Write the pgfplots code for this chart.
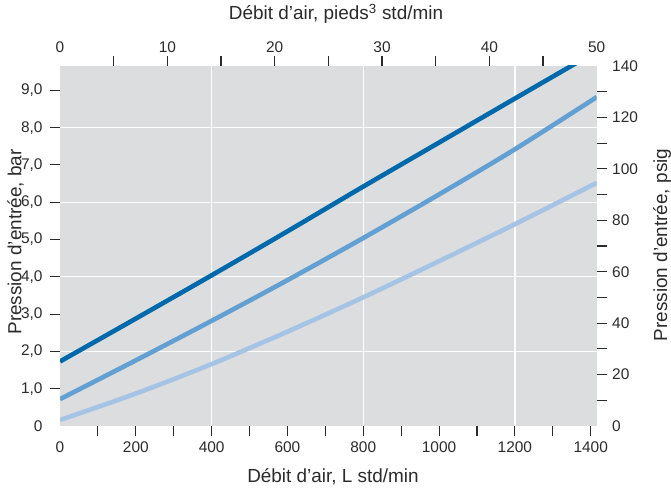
\documentclass[border=0pt]{standalone}
\usepackage{fontspec}
\setmainfont{Liberation Sans}
\usepackage{pgfplots}
\pgfplotsset{compat=1.18}
\definecolor{bggray}{HTML}{DCDDDF}
\definecolor{cdark}{HTML}{0069AB}
\definecolor{cmed}{HTML}{629FD2}
\definecolor{clight}{HTML}{A5C4E5}
\definecolor{txt}{HTML}{2B2B2B}
\begin{document}
\begin{tikzpicture}
\useasboundingbox (0,0) rectangle (671bp,494bp);
\pgfplotsset{
  common/.style={
    at={(60bp,68bp)}, anchor=south west,
    width=536.7bp, height=360bp, scale only axis,
    axis line style={draw=none},
    tick align=outside,
    major tick length=0pt,
    minor tick length=10bp,
    tick style={txt, line width=1.1bp},
    tick label style={font=\fontsize{15.5}{17}\selectfont, text=txt},
    /pgf/number format/assume math mode=true,
    /pgf/number format/1000 sep={},
  }
}
\pgfplotstableread{
x y
0 1.73
200 2.88
400 4.04
600 5.22
800 6.42
1000 7.60
1200 8.78
1416 10.05
}\darkdata
\pgfplotstableread{
x y
0 0.72
200 1.76
400 2.82
600 3.91
800 5.04
1000 6.21
1200 7.42
1416 8.82
}\meddata
\pgfplotstableread{
x y
0 0.16
200 0.87
400 1.66
600 2.53
800 3.45
1000 4.42
1200 5.41
1416 6.52
}\lightdata
\begin{axis}[common,
  xmin=0, xmax=1415.8, ymin=0, ymax=9.6526,
  axis background/.style={fill=bggray},
  xtick pos=bottom, ytick pos=left,
  xtick={0,200,...,1400},
  minor xtick={100,200,...,1400},
  ytick={0,1,...,9},
  yticklabels={0,{1,0},{2,0},{3,0},{4,0},{5,0},{6,0},{7,0},{8,0},{9,0}},
  minor ytick={1,2,...,9},
  extra x ticks={400,800,1200}, extra x tick labels={},
  extra y ticks={2,4,6,8}, extra y tick labels={},
  extra tick style={grid=major, major tick length=0pt},
  major grid style={white, line width=1.3bp},
  xticklabel style={yshift=-12bp},
  yticklabel style={xshift=-14bp},
]
\addplot[clight, line width=4.6bp, smooth] table[x=x,y=y] {\lightdata};
\addplot[cmed, line width=4.6bp, smooth] table[x=x,y=y] {\meddata};
\addplot[cdark, line width=4.6bp, smooth] table[x=x,y=y] {\darkdata};
\end{axis}
\begin{axis}[common,
  xmin=0, xmax=1415.8, ymin=0, ymax=140,
  axis x line=none,
  ytick pos=right,
  ytick={0,20,...,140},
  minor ytick={10,20,...,130},
  yticklabel style={xshift=12bp},
]
\end{axis}
\begin{axis}[common,
  xmin=0, xmax=50, ymin=0, ymax=1,
  axis y line=none,
  xtick pos=top,
  xtick={0,10,...,50},
  minor xtick={5,10,...,45},
  xticklabel style={yshift=10bp},
]
\end{axis}
\node[text=txt, font=\fontsize{19}{21}\selectfont] at (333bp,17bp) {Débit d’air, L std/min};
\node[text=txt, font=\fontsize{19}{21}\selectfont] at (336bp,480bp) {Débit d’air, pieds\textsuperscript{3} std/min};
\node[text=txt, font=\fontsize{19}{21}\selectfont, rotate=90] at (15.5bp,252bp) {Pression d’entrée, bar};
\node[text=txt, font=\fontsize{19}{21}\selectfont, rotate=90] at (662bp,249bp) {Pression d’entrée, psig};
\end{tikzpicture}
\end{document}
